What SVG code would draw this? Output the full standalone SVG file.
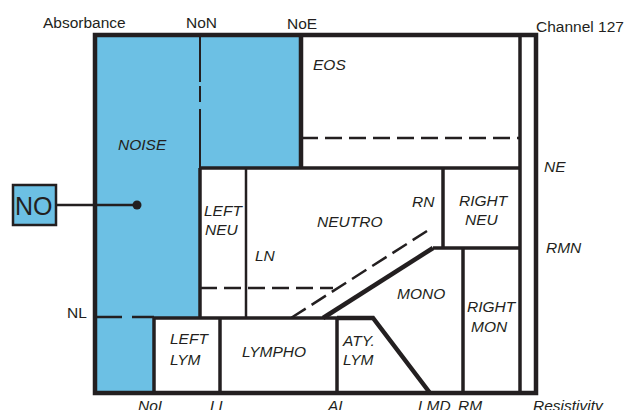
<svg xmlns="http://www.w3.org/2000/svg" width="627" height="410" viewBox="0 0 627 410">
<defs>
<style>
text{font-family:"Liberation Sans",Arial,sans-serif;fill:#231f20}
.ax{font-size:15.5px}
.lb{font-size:15.5px;font-style:italic}
.k{stroke:#231f20;fill:none;stroke-linecap:butt;stroke-linejoin:miter}
.t4{stroke-width:4.5}
.t3{stroke-width:3.5}
.t2{stroke-width:2.5}
.d{stroke:#231f20;fill:none;stroke-width:2.5;stroke-dasharray:17 7}
</style>
</defs>
<rect width="627" height="410" fill="#fff"/>
<g id="noise">
<polygon points="95,35 301,35 301,168 200,168 200,318 154,318 154,393 95,393" fill="#6cc0e4"/>
<path class="k" stroke-width="2" d="M200,37V82M200,86V102M200,109V168"/>
<path class="k" stroke-width="2.5" d="M97,317H122M132,317H154"/>
<text class="lb" x="118" y="150">NOISE</text>
</g>
<g id="frame">
<path class="k t4" d="M95,35H536V393H95Z"/>
<path class="k t3" d="M520,35V393"/>
</g>
<g id="eos">
<path class="k t4" d="M301,35V168"/>
<path class="k t3" d="M200,168H520"/>
<path class="d" d="M301,138H520"/>
<text class="lb" x="313" y="70">EOS</text>
</g>
<g id="left-neu">
<path class="k t3" d="M200,168V318"/>
<text class="lb" x="204" y="216">LEFT</text>
<text class="lb" x="205" y="235">NEU</text>
</g>
<g id="neutro">
<path class="k t2" d="M246,168V318"/>
<path class="d" d="M200,288H333"/>
<path class="d" d="M427,231L291,318"/>
<text class="lb" x="317" y="227">NEUTRO</text>
<text class="lb" x="412" y="207">RN</text>
<text class="lb" x="255" y="261">LN</text>
</g>
<g id="right-neu">
<path class="k t3" d="M443,168V248"/>
<path class="k t3" d="M433,248H520"/>
<text class="lb" x="459" y="206">RIGHT</text>
<text class="lb" x="465" y="225">NEU</text>
</g>
<g id="mono">
<path class="k t4" d="M433,248L323,318"/>
<path class="k t4" d="M337,318H373L430,393"/>
<text class="lb" x="397" y="299">MONO</text>
</g>
<g id="right-mon">
<path class="k t3" d="M463,248V393"/>
<text class="lb" x="467" y="312">RIGHT</text>
<text class="lb" x="471" y="332">MON</text>
</g>
<g id="left-lym">
<path class="k t3" d="M154,318V393"/>
<path class="k t3" d="M154,318H337"/>
<text class="lb" x="170" y="344">LEFT</text>
<text class="lb" x="170" y="365">LYM</text>
</g>
<g id="lympho">
<path class="k t3" d="M220,318V393"/>
<text class="lb" x="242" y="357">LYMPHO</text>
</g>
<g id="aty-lym">
<path class="k t3" d="M337,318V393"/>
<text class="lb" x="343" y="346">ATY.</text>
<text class="lb" x="343" y="365">LYM</text>
</g>
<g id="axis-labels">
<text class="ax" x="43" y="28">Absorbance</text>
<text class="ax" x="186" y="28">NoN</text>
<text class="ax" x="287" y="29">NoE</text>
<text class="ax" x="536" y="32">Channel 127</text>
<text class="lb" x="544" y="172">NE</text>
<text class="lb" x="546" y="253">RMN</text>
<text class="ax" x="67" y="318">NL</text>
<text class="lb" x="138" y="411">NoI</text>
<text class="lb" x="210" y="411">LL</text>
<text class="lb" x="328" y="411">AI</text>
<text class="lb" x="418" y="411">LMD</text>
<text class="lb" x="458" y="411">RM</text>
<text class="lb" x="533" y="411">Resistivity</text>
</g>
<g id="no">
<rect x="13" y="185" width="43" height="40" fill="#6cc0e4" stroke="#231f20" stroke-width="2.5"/>
<text x="15" y="215" style="font-size:25px">NO</text>
</g>
<g id="connectors">
<path class="k" stroke-width="2.5" d="M56,205H137"/>
<circle cx="137" cy="205" r="4.5" fill="#231f20"/>
</g>
</svg>
